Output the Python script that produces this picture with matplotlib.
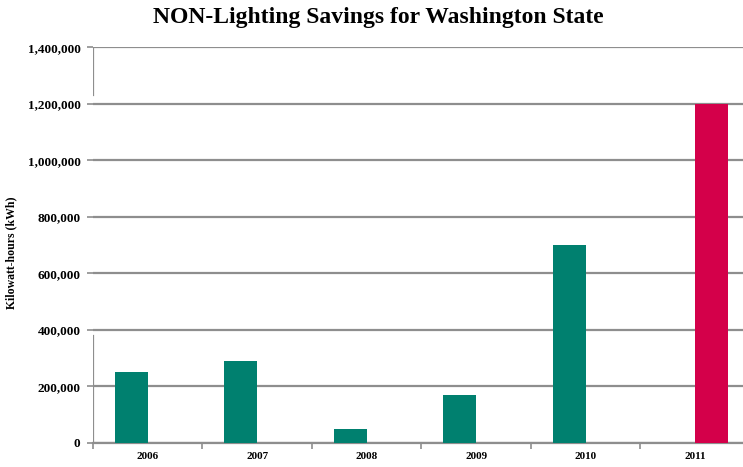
import matplotlib
matplotlib.use("Agg")
import matplotlib.pyplot as plt
import numpy as np

years = ["2006", "2007", "2008", "2009", "2010", "2011"]
savings = [250000, 290000, 47000, 169000, 700000, 0]
savings_2011 = [0, 0, 0, 0, 0, 1200000]
yticks = [0, 200000, 400000, 600000, 800000, 1000000, 1200000, 1400000]

teal = "#00806f"
red = "#d4004a"
grid = "#8e8e8e"

W, H = 743, 467
fig = plt.figure(figsize=(W / 100, H / 100), dpi=100)
# plot area runs a little past the right edge of the picture
left, right, top, bottom = 93, 750, 47.3, 442.7
ax = fig.add_axes([left / W, 1 - bottom / H, (right - left) / W, (bottom - top) / H])

x = np.arange(len(years))
bw = 0.3
ax.bar(x - bw / 2, savings, width=bw, color=teal, zorder=3)
ax.bar(x + bw / 2, savings_2011, width=bw, color=red, zorder=3)

ax.set_xlim(-0.5, len(years) - 0.5)
ax.set_ylim(0, 1400000)
ax.set_yticks(yticks)
ax.set_yticklabels([f"{v:,}" for v in yticks])
ax.yaxis.grid(True, color=grid, linewidth=1.6, zorder=0)

ax.set_xticks(x)
ax.set_xticklabels(years)
ax.set_xticks(np.arange(len(years) + 1) - 0.5, minor=True)
ax.tick_params(axis="x", which="major", length=0, pad=7)
ax.tick_params(axis="x", which="minor", length=4, width=1.2, color=grid, direction="out")
ax.tick_params(axis="y", length=4, width=1.2, color=grid, pad=5)

for lab in ax.get_yticklabels():
    lab.set_family("Liberation Serif")
    lab.set_fontweight("bold")
    lab.set_fontsize(9.5)
for lab in ax.get_xticklabels():
    lab.set_family("Liberation Serif")
    lab.set_fontweight("bold")
    lab.set_fontsize(8)

for s in ["top", "right", "left"]:
    ax.spines[s].set_visible(False)
ax.spines["bottom"].set_color(grid)
ax.spines["bottom"].set_linewidth(1.6)
# left axis line only shows in two pieces in the original
ax.axvline(-0.5, 0, 0.27, color=grid, linewidth=1.6, zorder=4)
ax.axvline(-0.5, 0.879, 1, color=grid, linewidth=1.6, zorder=4)

ax.set_ylabel("Kilowatt-hours (kWh)", family="Liberation Serif", fontweight="bold",
              fontsize=8.5)
ax.yaxis.set_label_coords(-76 / (right - left), 0.48)

fig.text(378 / W, 1 - 18 / H, "NON-Lighting Savings for Washington State",
         ha="center", va="center", family="Liberation Serif", fontweight="bold",
         fontsize=17)

fig.savefig("out.png", dpi=100)
